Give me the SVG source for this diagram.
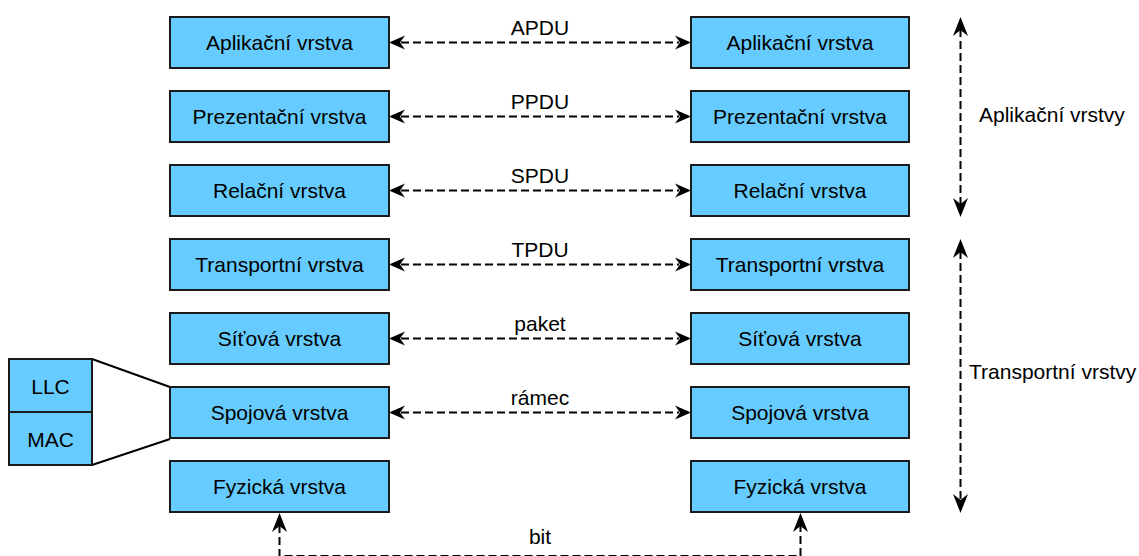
<svg xmlns="http://www.w3.org/2000/svg" width="1139" height="556" viewBox="0 0 1139 556">
<style>
.box{fill:#66CCFF;stroke:#1a1a1a;stroke-width:2}
.t{font-family:"Liberation Sans",Arial,sans-serif;font-size:21px;fill:#000;text-anchor:middle}
.ts{font-family:"Liberation Sans",Arial,sans-serif;font-size:21px;fill:#000}
.c{stroke:#000;stroke-width:2;stroke-dasharray:8,4;fill:none}
.s{stroke:#000;stroke-width:2;fill:none}
</style>
<defs>
<marker id="ah" markerUnits="userSpaceOnUse" viewBox="-6 -10 22 20" refX="0" refY="0" markerWidth="22" markerHeight="20" orient="auto-start-reverse" overflow="visible">
<path d="M12,0 L-4,-7 L1,0 L-4,7 Z" fill="#000"/>
</marker>
<marker id="av" markerUnits="userSpaceOnUse" viewBox="-8 -10 24 20" refX="0" refY="0" markerWidth="24" markerHeight="20" orient="auto-start-reverse" overflow="visible">
<path d="M12,0 L-7,-7.5 L-1,0 L-7,7.5 Z" fill="#000"/>
</marker>
</defs>
<g id="connectors">
<line class="c" x1="401" y1="42.5" x2="679" y2="42.5" marker-start="url(#ah)" marker-end="url(#ah)"/>
<line class="c" x1="401" y1="116.5" x2="679" y2="116.5" marker-start="url(#ah)" marker-end="url(#ah)"/>
<line class="c" x1="401" y1="190.5" x2="679" y2="190.5" marker-start="url(#ah)" marker-end="url(#ah)"/>
<line class="c" x1="401" y1="264.5" x2="679" y2="264.5" marker-start="url(#ah)" marker-end="url(#ah)"/>
<line class="c" x1="401" y1="338.5" x2="679" y2="338.5" marker-start="url(#ah)" marker-end="url(#ah)"/>
<line class="c" x1="401" y1="412.5" x2="679" y2="412.5" marker-start="url(#ah)" marker-end="url(#ah)"/>
<line class="c" x1="960.5" y1="29" x2="960.5" y2="205" marker-start="url(#av)" marker-end="url(#av)"/>
<line class="c" x1="960.5" y1="251" x2="960.5" y2="501" marker-start="url(#av)" marker-end="url(#av)"/>
<polyline class="c" points="279.5,525 279.5,556 800.5,556 800.5,525" marker-start="url(#av)" marker-end="url(#av)"/>
<line class="s" x1="92" y1="359" x2="170" y2="387"/>
<line class="s" x1="92" y1="465" x2="170" y2="439"/>
</g>
<g id="labels">
<text class="t" x="540" y="35">APDU</text>
<text class="t" x="540" y="109">PPDU</text>
<text class="t" x="540" y="183">SPDU</text>
<text class="t" x="540" y="257">TPDU</text>
<text class="t" x="540" y="331">paket</text>
<text class="t" x="540" y="405">rámec</text>
<text class="t" x="540" y="544">bit</text>
<text class="ts" x="979" y="122">Aplikační vrstvy</text>
<text class="ts" x="969" y="379">Transportní vrstvy</text>
</g>
<g id="l-apl"><rect class="box" x="170" y="17" width="219" height="51"/><text class="t" x="279.5" y="50">Aplikační vrstva</text></g>
<g id="l-pre"><rect class="box" x="170" y="91" width="219" height="51"/><text class="t" x="279.5" y="124">Prezentační vrstva</text></g>
<g id="l-rel"><rect class="box" x="170" y="165" width="219" height="51"/><text class="t" x="279.5" y="198">Relační vrstva</text></g>
<g id="l-tra"><rect class="box" x="170" y="239" width="219" height="51"/><text class="t" x="279.5" y="272">Transportní vrstva</text></g>
<g id="l-sit"><rect class="box" x="170" y="313" width="219" height="51"/><text class="t" x="279.5" y="346">Síťová vrstva</text></g>
<g id="l-spo"><rect class="box" x="170" y="387" width="219" height="51"/><text class="t" x="279.5" y="420">Spojová vrstva</text></g>
<g id="l-fyz"><rect class="box" x="170" y="461" width="219" height="51"/><text class="t" x="279.5" y="494">Fyzická vrstva</text></g>
<g id="r-apl"><rect class="box" x="691" y="17" width="218" height="51"/><text class="t" x="800" y="50">Aplikační vrstva</text></g>
<g id="r-pre"><rect class="box" x="691" y="91" width="218" height="51"/><text class="t" x="800" y="124">Prezentační vrstva</text></g>
<g id="r-rel"><rect class="box" x="691" y="165" width="218" height="51"/><text class="t" x="800" y="198">Relační vrstva</text></g>
<g id="r-tra"><rect class="box" x="691" y="239" width="218" height="51"/><text class="t" x="800" y="272">Transportní vrstva</text></g>
<g id="r-sit"><rect class="box" x="691" y="313" width="218" height="51"/><text class="t" x="800" y="346">Síťová vrstva</text></g>
<g id="r-spo"><rect class="box" x="691" y="387" width="218" height="51"/><text class="t" x="800" y="420">Spojová vrstva</text></g>
<g id="r-fyz"><rect class="box" x="691" y="461" width="218" height="51"/><text class="t" x="800" y="494">Fyzická vrstva</text></g>
<g id="llc"><rect class="box" x="9" y="359" width="83" height="53"/><text class="t" x="50.5" y="394">LLC</text></g>
<g id="mac"><rect class="box" x="9" y="412" width="83" height="53"/><text class="t" x="50.5" y="447">MAC</text></g>
</svg>
